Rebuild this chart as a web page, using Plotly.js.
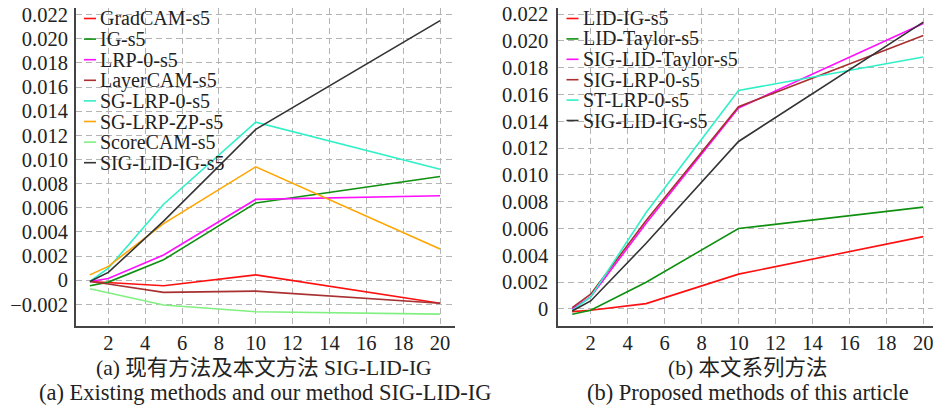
<!DOCTYPE html>
<html>
<head>
<meta charset="utf-8">
<script src="https://cdn.plot.ly/plotly-3.0.1.min.js"></script>
<style>html,body{margin:0;padding:0;background:#fff;}#chart{width:933px;height:408px;}</style>
</head>
<body>
<div id="chart"></div>
<script>
// ---- data ----
const xSteps = [1, 2, 5, 10, 20];

const leftNames = ["GradCAM-s5", "IG-s5", "LRP-0-s5", "LayerCAM-s5", "SG-LRP-0-s5", "SG-LRP-ZP-s5", "ScoreCAM-s5", "SIG-LID-IG-s5"];
const gradcam   = [-0.0001, -0.0002, -0.00045, 0.00045, -0.0019];
const ig        = [-0.00045, -0.00015, 0.0017, 0.0064, 0.0086];
const lrp0      = [-0.0001, 0.00014, 0.0021, 0.0067, 0.0070];
const layercam  = [-0.0001, -0.0003, -0.0010, -0.0009, -0.0019];
const sgLrp0    = [-0.0001, 0.0010, 0.0063, 0.0131, 0.0092];
const sgLrpZp   = [0.00045, 0.00115, 0.0047, 0.0094, 0.0026];
const scorecam  = [-0.0007, -0.00105, -0.00205, -0.0026, -0.0028];
const sigLidIgA = [-0.0001, 0.00065, 0.0049, 0.0125, 0.0215];
const leftValues = [gradcam, ig, lrp0, layercam, sgLrp0, sgLrpZp, scorecam, sigLidIgA];

const rightNames = ["LID-IG-s5", "LID-Taylor-s5", "SIG-LID-Taylor-s5", "SIG-LRP-0-s5", "ST-LRP-0-s5", "SIG-LID-IG-s5"];
const lidIg        = [-0.0002, -0.0001, 0.0004, 0.0026, 0.0054];
const lidTaylor    = [-0.0004, -0.0001, 0.0020, 0.0060, 0.0076];
const sigLidTaylor = [0.0, 0.0009, 0.0064, 0.0150, 0.0213];
const sigLrp0      = [0.0001, 0.0011, 0.0066, 0.0151, 0.0204];
const stLrp0       = [-0.0001, 0.0009, 0.0072, 0.0163, 0.0188];
const sigLidIgB    = [-0.00015, 0.0006, 0.0049, 0.0125, 0.0214];
const rightValues = [lidIg, lidTaylor, sigLidTaylor, sigLrp0, stLrp0, sigLidIgB];

const xTickVals = [2, 4, 6, 8, 10, 12, 14, 16, 18, 20];
const yTickValsA = [-0.002, 0, 0.002, 0.004, 0.006, 0.008, 0.010, 0.012, 0.014, 0.016, 0.018, 0.020, 0.022];
const yTickTextA = ["\u22120.002", "0", "0.002", "0.004", "0.006", "0.008", "0.010", "0.012", "0.014", "0.016", "0.018", "0.020", "0.022"];
const yTickValsB = [0, 0.002, 0.004, 0.006, 0.008, 0.010, 0.012, 0.014, 0.016, 0.018, 0.020, 0.022];
const yTickTextB = ["0", "0.002", "0.004", "0.006", "0.008", "0.010", "0.012", "0.014", "0.016", "0.018", "0.020", "0.022"];

const captionA1 = "(a) 现有方法及本文方法 SIG-LID-IG";
const captionA2 = "(a) Existing methods and our method SIG-LID-IG";
const captionB1 = "(b) 本文系列方法";
const captionB2 = "(b) Proposed methods of this article";

// ---- styles ----
const leftColors  = ["#ff1010", "#109010", "#ff10ff", "#a83030", "#30f0c8", "#ffa500", "#80f080", "#333333"];
const rightColors = ["#ff1010", "#109010", "#ff10ff", "#a83030", "#30f0c8", "#333333"];

const W = 933, H = 408;
const FONT = "'Liberation Serif', 'Times New Roman', serif";
const CJK = "'Liberation Serif', 'Noto Sans CJK SC', serif";

const traces = [];
leftNames.forEach((n, i) => traces.push({
  x: xSteps, y: leftValues[i], name: n, mode: "lines", xaxis: "x", yaxis: "y",
  line: {color: leftColors[i], width: 1.6}, showlegend: false, hoverinfo: "skip"
}));
rightNames.forEach((n, i) => traces.push({
  x: xSteps, y: rightValues[i], name: n, mode: "lines", xaxis: "x2", yaxis: "y2",
  line: {color: rightColors[i], width: 1.6}, showlegend: false, hoverinfo: "skip"
}));

const px = v => v / W;
const py = v => 1 - v / H;

const shapes = [];
const annotations = [];
function legend(names, colors, lineX0, lineX1, textX, y0, dy) {
  names.forEach((n, i) => {
    const y = y0 + i * dy;
    shapes.push({type: "line", xref: "paper", yref: "paper", x0: px(lineX0), x1: px(lineX1), y0: py(y), y1: py(y),
      line: {color: colors[i], width: 1.6}});
    annotations.push({xref: "paper", yref: "paper", x: px(textX), y: py(y), xanchor: "left", yanchor: "middle",
      text: n, showarrow: false, font: {family: FONT, size: 20, color: "#222"}, borderpad: 0});
  });
}
legend(leftNames, leftColors, 84, 96, 99, 18.5, 20.6);
legend(rightNames, rightColors, 566.5, 578.5, 582, 18.5, 20.4);

function caption(t, x, y, size) {
  annotations.push({xref: "paper", yref: "paper", x: px(x), y: py(y), xanchor: "center", yanchor: "middle",
    text: t, showarrow: false, font: {family: CJK, size: size, color: "#222"}});
}
caption(captionA1, 264, 368, 21.5);
caption(captionA2, 265, 392.5, 22.5);
caption(captionB1, 747, 368, 21.5);
caption(captionB2, 748, 392.5, 22.5);

const gridStyle = {showgrid: true, gridcolor: "#b4b4b4", griddash: "6px,4px", gridwidth: 1, zeroline: false,
  showline: true, linecolor: "#444", linewidth: 2, ticks: "", mirror: false, ticklabeloverflow: "allow",
  tickfont: {family: FONT, size: 20.5, color: "#222"}};

const layout = {
  width: W, height: H, margin: {l: 0, r: 0, t: 0, b: 0}, paper_bgcolor: "#fff", plot_bgcolor: "#fff",
  showlegend: false,
  xaxis: Object.assign({}, gridStyle, {domain: [px(76), px(455)], range: [0.247, 20.81], tickvals: xTickVals, anchor: "y", ticklabelstandoff: -3}),
  yaxis: Object.assign({}, gridStyle, {domain: [py(326), py(8)], range: [-0.003785, 0.02255], tickvals: yTickValsA, ticktext: yTickTextA, anchor: "x", ticklabelstandoff: 2}),
  xaxis2: Object.assign({}, gridStyle, {domain: [px(558.3), 1], range: [0.247, 20.525], tickvals: xTickVals, anchor: "y2", ticklabelstandoff: -3}),
  yaxis2: Object.assign({}, gridStyle, {domain: [py(326), py(8)], range: [-0.00127, 0.02246], tickvals: yTickValsB, ticktext: yTickTextB, anchor: "x2", ticklabelstandoff: 4}),
  shapes: shapes,
  annotations: annotations
};

Plotly.newPlot("chart", traces, layout, {staticPlot: true, displayModeBar: false});
</script>
</body>
</html>
